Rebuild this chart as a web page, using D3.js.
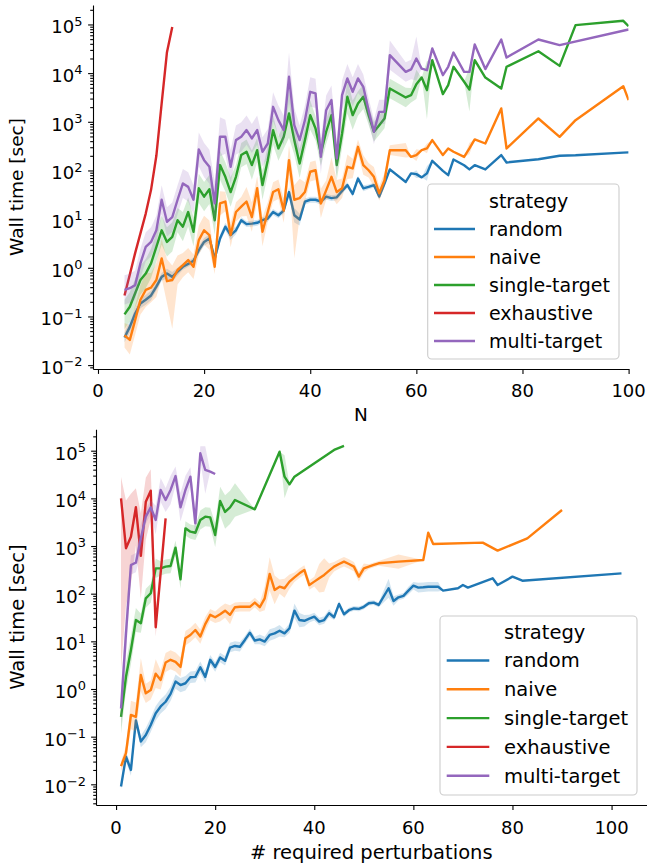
<!DOCTYPE html>
<html>
<head>
<meta charset="utf-8">
<script src="https://cdn.jsdelivr.net/npm/d3@7"></script>
<style>
  body { margin: 0; background: #fff; }
  text { font-family: "DejaVu Sans", sans-serif; fill: #000; }
</style>
</head>
<body>
<svg id="chart" width="649" height="866"></svg>
<script>
// legend order / colours (tab10)
const strategies = ["random", "naive", "single-target", "exhaustive", "multi-target"];
const colors = ["#1f77b4", "#ff7f0e", "#2ca02c", "#d62728", "#9467bd"];
const xTicks = [0, 20, 40, 60, 80, 100];

// ---- top panel: wall time vs N ----
const nTop = [5,6,7,8,9,10,11,12,13,14,15,16,17,18,19,20,21,22,23,24,25,26,27,28,29,30,
  31,32,33,34,35,36,37,38,39,40,41,42,43,44,45,46,47,48,49,50,51,52,53,54,55,
  58,59,60,61,62,63,65,66,67,69,70,71,73,76,77,83,87,90,99,100];

const topRandom = [0.037,0.061,0.115,0.185,0.22,0.27,0.41,0.65,0.76,0.65,0.83,1.05,1.2,1.4,2.3,3.4,4.0,1.55,4.0,7.0,
  4.7,5.9,9.5,7.9,8.1,8.4,9.5,10.3,14,12,15,36,12,9.8,23,25,25,23,29,27,28,38,50,33,68,43,46,50,29,54,105,
  58,87,84,72,87,158,98,80,168,128,105,128,105,207,146,170,200,205,233,235];
const topNaive = [0.041,0.033,0.084,0.22,0.35,0.39,0.56,1.55,0.53,0.56,0.9,1.13,1.44,1.05,3.7,5.9,4.7,1.05,21,23,
  4.7,14,18,23,11,43,5.5,14,36,41,15,163,25,27,36,94,101,21,39,74,36,43,119,110,306,129,101,74,34,63,261,
  261,190,207,261,283,420,207,283,242,190,283,434,358,1880,283,1170,491,1080,5400,2790];
const topSingle = [0.11,0.158,0.30,0.56,0.76,1.23,2.7,5.9,3.4,4.3,9.5,7.0,14,5.5,43,29,41,9.5,129,74,
  36,74,207,242,129,261,50,163,675,283,491,1480,420,139,420,1370,730,223,624,1370,129,575,3270,1370,2380,3270,1370,624,853,1170,4830,
  3160,3520,5900,8130,4470,18500,3700,5660,13500,6640,4610,18500,8130,4830,13500,28200,14100,96800,119000,92000];
const topExhaustive = [0.27,0.73,2.0,5.1,13,40,200,2400,27000,89000,null,null,null,null,null,null,null,null,null,null,
  null,null,null,null,null,null,null,null,null,null,null,null,null,null,null,null,null,null,null,null,null,null,null,null,null,null,null,null,null,null,null,
  null,null,null,null,null,null,null,null,null,null,null,null,null,null,null,null,null,null,null,null];
const topMulti = [0.35,0.38,0.44,1.23,2.7,3.4,5.9,25,8.8,11,25,54,46,25,270,163,119,21,491,491,
  119,420,491,675,454,675,242,358,2030,1080,675,8400,853,420,1080,4130,3820,191,1730,2790,176,3520,7760,4130,7760,5240,1730,624,1600,1600,23400,
  10600,11900,20000,12400,11500,32100,9080,13500,26500,10600,10600,38700,12100,49100,20900,49100,37600,null,null,78900];

// confidence band half-widths in decades (a pair is [down, up])
const topRandomCi = [0.1,0.12,0.1,0.1,0.1,0.1,0.08,0.08,0.1,0.1,0.08,0.06,0.06,0.06,0.08,0.08,0.08,0.1,0.08,0.08,
  0.1,0.08,0.06,0.06,0.06,0.06,0.06,0.06,0.06,0.06,0.06,0.1,0.15,0.12,0.06,0.06,0.06,0.06,0.06,0.06,0.06,0.06,0.06,0.06,0.06,0.06,0.05,0.05,0.06,0.05,0.04,
  0,0,0.08,0,0.15,0,0,0,0,0,0,0,0,0,0,0,0,0,0,0];
const topNaiveCi = [0.25,0.3,0.3,0.3,0.35,0.3,0.35,0.4,0.45,[1.0,0.3],0.3,0.25,0.25,0.25,0.3,0.3,0.3,0.15,0.25,0.2,
  0.25,0.2,0.2,0.3,0.3,0.25,0.3,0.2,0.2,0.2,0.25,0.3,[1.2,0.3],0.4,0.2,0.2,0.2,0.3,0.2,0.4,0.25,0.2,0.25,0.2,0.15,0.2,0.15,0.2,0.15,0.15,0.1,
  0.15,0,0.12,0,0.1,0,0,0,0,0,0.12,0,0,0,0,0,0,0,0,0];
const topSingleCi = [0.3,0.3,0.3,0.3,0.3,0.3,0.3,0.3,0.3,0.3,0.25,0.3,0.3,0.3,0.3,0.3,0.3,0.3,0.3,0.3,
  0.3,0.25,0.25,0.25,0.3,0.25,0.3,0.3,0.3,0.25,0.25,0.5,0.3,0.3,0.25,0.3,0.25,0.25,0.25,0.25,0.3,0.3,0.35,0.3,0.25,0.25,0.2,0.2,0.2,0.2,0.2,
  0.2,0.15,0.3,0,0.6,0,0,0,0,0,0.45,0,0,0,0,0,0,0,0,0];
const topMultiCi = [0.3,0.3,0.3,0.3,0.3,0.3,0.3,0.3,0.3,0.3,0.3,0.3,0.3,0.3,0.35,0.35,0.35,0.45,0.4,0.35,
  0.35,0.3,0.3,0.3,0.3,0.3,0.3,0.3,0.3,0.3,0.3,0.5,0.35,0.3,0.3,0.3,0.3,0.35,0.3,0.3,0.35,0.3,0.3,0.3,0.3,0.25,0.25,0.25,0.25,0.25,0.3,
  0.2,0.2,0.45,0,0,0,0,0,0,0,0,0,0,0,0,0,0,0,0,0];

// ---- bottom panel: wall time vs # required perturbations ----
const pertRandom = [1,2,3,4,5,6,7,8,9,10,11,12,13,14,15,16,17,18,19,20,21,22,23,24,25,26,27,28,29,30,
  31,32,33,34,35,36,37,38,39,40,41,42,43,44,45,46,47,48,49,50,51,52,53,55,56,57,58,59,60,61,62,63,
  65,66,69,70,71,76,77,80,82,102];
const timeRandom = [0.009,0.038,0.020,0.22,0.079,0.108,0.176,0.31,0.43,0.54,0.79,1.43,1.21,1.32,1.76,1.8,2.85,1.8,4.1,2.9,
  4.6,3.9,7.4,8.0,7.7,10.7,15.2,10.4,11,9.9,13.6,14.7,16.7,14.7,18.8,44,28,27,30,33,26,28,39,32,61,37,45,49,48,53,63,65,58,
  130,70,84,90,116,147,134,136,140,140,116,130,152,134,210,152,228,187,267];
const ciRandom = [0.05,0.1,0.12,0.12,0.12,0.15,0.15,0.15,0.15,0.15,0.15,0.15,0.15,0.15,0.12,0.12,0.12,0.12,0.1,0.1,
  0.1,0.1,0.1,0.1,0.1,0.08,0.08,0.08,0.1,0.1,0.12,0.12,0.12,0.08,0.1,0.15,0.15,0.12,0.08,0.08,0.08,0.08,0.08,0.06,0.06,0.06,0.05,0.05,0.05,0.05,0.05,0.05,0.05,
  0.2,0.1,0.06,0.06,0.08,0.08,0.1,0.1,0.1,0.1,0,0,0,0,0,0,0,0,0];

const pertNaive = [1,2,3,4,5,6,7,8,9,10,11,12,13,14,15,16,17,18,19,20,21,22,23,24,25,26,27,28,29,30,
  31,32,33,34,35,36,37,38,39,40,41,42,43,44,45,46,47,48,49,50,51,52,53,57,62,63,64,74,77,83,90];
const timeNaive = [0.024,0.045,0.285,0.26,1.97,0.81,0.95,2.1,1.55,3.6,4.1,3.7,2.9,11.6,13.6,17.3,12.6,23,36,32,
  37,44,36,52,53,53,53,65,52,80,259,120,140,130,179,220,267,314,152,179,210,247,304,369,420,470,420,369,228,340,369,400,434,
  470,509,1900,1100,1180,800,1450,5700];
const ciNaive = [0.1,0.15,0.3,0.3,0.35,0.2,0.2,0.3,0.2,0.2,0.2,0.2,0.2,0.15,0.15,0.15,0.15,0.15,0.12,0.12,
  0.15,0.15,0.2,0.1,0.1,0.1,0.1,0.1,0.1,0.25,0.35,0.3,0.15,0.2,0.15,0.1,0.1,0.1,0.1,0.1,0.3,0.35,0.15,0.1,0.1,0.1,0.1,0.1,0.1,0.1,0.05,0.05,0.05,
  0.15,0,0,0,0,0,0,0];

const pertSingle = [1,2,3,4,5,6,7,8,9,10,11,12,13,14,15,16,17,18,19,20,21,22,23,24,28,33,34,35,36,44,46];
const timeSingle = [0.26,1.8,6.6,28,24,80,102,340,340,369,381,925,200,2350,2000,1900,3520,4130,4000,1700,
  8800,5180,6490,9250,5890,95500,28500,19700,28500,103500,125600];
const ciSingle = [0.35,0.3,0.3,0.25,0.2,0.2,0.2,0.2,0.15,0.15,0.15,0.15,0.2,0.15,0.15,0.15,0.2,0.2,0.2,0.25,
  0.3,0.35,0.35,0.35,0,0,[0.45,0.45],0,0,0,0];

const pertExhaustive = [1,2,3,4,5,6,7,8,10];
const timeExhaustive = [10000,900,1570,6490,620,8530,14500,19.7,3810];
const ciExhaustive = [[3.6,0.45],[1.2,1.0],[1.0,0.9],[0.8,0.4],[0.9,0.9],[0.8,0.5],[0.6,0.45],[0.2,0.3],0];

const pertMulti = [1,2,3,4,5,6,7,8,9,10,11,12,13,14,15,16,17,18,19,20];
const timeMulti = [0.39,14.7,400,448,1450,4130,6490,3520,15000,9250,15000,29400,6490,15000,28500,2990,88100,39400,36300,32400];
const ciMulti = [0.4,0.5,0.2,0.2,0.3,0.15,0.15,0.3,0.25,0.25,0.3,0.2,0.3,0.3,0.2,0.3,0.15,0.5,0,0];

const svg = d3.select("#chart");

function supLabel(k) { return k < 0 ? "\u2212" + (-k) : String(k); }

function limits(v, c) {
  if (c == null) return [v, v];
  var d = Array.isArray(c) ? c : [c, c];
  return [v / Math.pow(10, d[0]), v * Math.pow(10, d[1])];
}

function drawPanel(p) {
  var x = d3.scaleLinear().domain(p.xDomain).range([p.left, p.right]);
  var y = d3.scaleLog().domain(p.yDomain).range([p.bottom, p.top]);

  svg.append("clipPath").attr("id", "clip" + p.id)
    .append("rect")
    .attr("x", p.left).attr("y", p.top)
    .attr("width", p.right - p.left).attr("height", p.bottom - p.top);

  var plot = svg.append("g").attr("clip-path", "url(#clip" + p.id + ")");

  p.series.forEach(function (s, i) {
    var pts = s.x.map(function (xv, j) {
      return { x: xv, v: s.y[j], c: s.ci ? s.ci[j] : null };
    }).filter(function (d) { return d.v != null; });

    plot.append("path")
      .datum(pts)
      .attr("d", d3.line().x(d => x(d.x)).y(d => y(d.v)))
      .attr("fill", "none")
      .attr("stroke", colors[i])
      .attr("stroke-width", 2.4)
      .attr("stroke-linejoin", "round");

    if (s.ci) {
      plot.append("path")
        .datum(pts)
        .attr("d", d3.area()
          .x(d => x(d.x))
          .y0(d => y(limits(d.v, d.c)[0]))
          .y1(d => y(limits(d.v, d.c)[1])))
        .attr("fill", colors[i])
        .attr("fill-opacity", 0.2)
        .attr("stroke", "none");
    }
  });

  // y axis: log majors + minors
  var majors = [], minors = [];
  for (var k = -3; k <= 6; k++) {
    var v = Math.pow(10, k);
    if (v >= p.yDomain[0] && v <= p.yDomain[1]) majors.push(k);
    for (var m = 2; m <= 9; m++) {
      var mv = m * v;
      if (mv >= p.yDomain[0] && mv <= p.yDomain[1]) minors.push(mv);
    }
  }

  var yAxis = svg.append("g")
    .attr("transform", `translate(${p.left},0)`)
    .call(d3.axisLeft(y).tickValues(majors.map(k => Math.pow(10, k)))
      .tickSize(4.9).tickSizeOuter(0).tickFormat(""));
  svg.append("g")
    .attr("transform", `translate(${p.left},0)`)
    .call(d3.axisLeft(y).tickValues(minors).tickSize(2.8).tickFormat(""))
    .call(g => g.select(".domain").remove());

  majors.forEach(function (k) {
    var t = svg.append("text")
      .attr("x", p.left - p.yLabelGap)
      .attr("y", y(Math.pow(10, k)) + 2.3 + 0.365 * p.tickFs)
      .attr("text-anchor", "end")
      .attr("font-size", p.tickFs);
    t.append("tspan").text("10");
    t.append("tspan")
      .attr("dy", -0.42 * p.tickFs)
      .attr("font-size", 0.72 * p.tickFs)
      .text(supLabel(k));
  });

  // x axis
  var xAxis = svg.append("g")
    .attr("transform", `translate(0,${p.bottom})`)
    .call(d3.axisBottom(x).tickValues(xTicks).tickSize(4.9).tickSizeOuter(0).tickFormat(""));

  xTicks.forEach(function (t) {
    svg.append("text")
      .attr("x", x(t))
      .attr("y", p.bottom + p.xLabelOff + 0.365 * p.tickFs)
      .attr("text-anchor", "middle")
      .attr("font-size", p.tickFs)
      .text(t);
  });

  svg.selectAll(".domain, .tick line")
    .attr("stroke", "#000")
    .attr("stroke-width", 1.1);

  // axis titles
  svg.append("text")
    .attr("transform", `translate(16.7,${(p.top + p.bottom) / 2}) rotate(-90)`)
    .attr("text-anchor", "middle")
    .attr("dy", "0.35em")
    .attr("font-size", p.labelFs)
    .text("Wall time [sec]");

  svg.append("text")
    .attr("x", (p.left + p.right) / 2)
    .attr("y", p.xTitleY)
    .attr("dy", "0.35em")
    .attr("text-anchor", "middle")
    .attr("font-size", p.labelFs)
    .text(p.xTitle);

  // legend
  var L = p.legend;
  var lg = svg.append("g");
  lg.append("rect")
    .attr("x", L.x).attr("y", L.y)
    .attr("width", L.w).attr("height", L.h)
    .attr("rx", 4)
    .attr("fill", "#fff").attr("fill-opacity", 0.8)
    .attr("stroke", "#cccccc").attr("stroke-width", 1.1);
  lg.append("text")
    .attr("x", L.textX).attr("y", L.titleY)
    .attr("dy", "0.35em")
    .attr("font-size", L.fs)
    .text("strategy");
  strategies.forEach(function (name, i) {
    var ry = L.titleY + L.step * (i + 1);
    lg.append("line")
      .attr("x1", L.lineX0).attr("x2", L.lineX1)
      .attr("y1", ry).attr("y2", ry)
      .attr("stroke", colors[i]).attr("stroke-width", 2.4);
    lg.append("text")
      .attr("x", L.textX).attr("y", ry)
      .attr("dy", "0.35em")
      .attr("font-size", L.fs)
      .text(name);
  });
}

drawPanel({
  id: "top",
  left: 93, right: 628.6, top: 5, bottom: 369,
  xDomain: [-0.94, 100],
  yDomain: [Math.pow(10, -2.08), Math.pow(10, 5.40)],
  tickFs: 18, labelFs: 18.5, yLabelGap: 10.5, xLabelOff: 21,
  xTitle: "N", xTitleY: 415,
  series: [
    { x: nTop, y: topRandom, ci: topRandomCi },
    { x: nTop, y: topNaive, ci: topNaiveCi },
    { x: nTop, y: topSingle, ci: topSingleCi },
    { x: nTop, y: topExhaustive, ci: null },
    { x: nTop, y: topMulti, ci: topMultiCi }
  ],
  legend: { x: 427.7, y: 184, w: 191.3, h: 175, titleY: 201, step: 28,
    lineX0: 434, lineX1: 475, textX: 489, fs: 19 }
});

drawPanel({
  id: "bottom",
  left: 96, right: 646.5, top: 429.3, bottom: 805,
  xDomain: [-4.05, 107.05],
  yDomain: [Math.pow(10, -2.434), Math.pow(10, 5.449)],
  tickFs: 18, labelFs: 19.5, yLabelGap: 10, xLabelOff: 22.5,
  xTitle: "# required perturbations", xTitleY: 851.7,
  series: [
    { x: pertRandom, y: timeRandom, ci: ciRandom },
    { x: pertNaive, y: timeNaive, ci: ciNaive },
    { x: pertSingle, y: timeSingle, ci: ciSingle },
    { x: pertExhaustive, y: timeExhaustive, ci: ciExhaustive },
    { x: pertMulti, y: timeMulti, ci: ciMulti }
  ],
  legend: { x: 440, y: 616, w: 197, h: 179, titleY: 631.7, step: 28.8,
    lineX0: 446.7, lineX1: 489.3, textX: 504, fs: 19.5 }
});
</script>
</body>
</html>
